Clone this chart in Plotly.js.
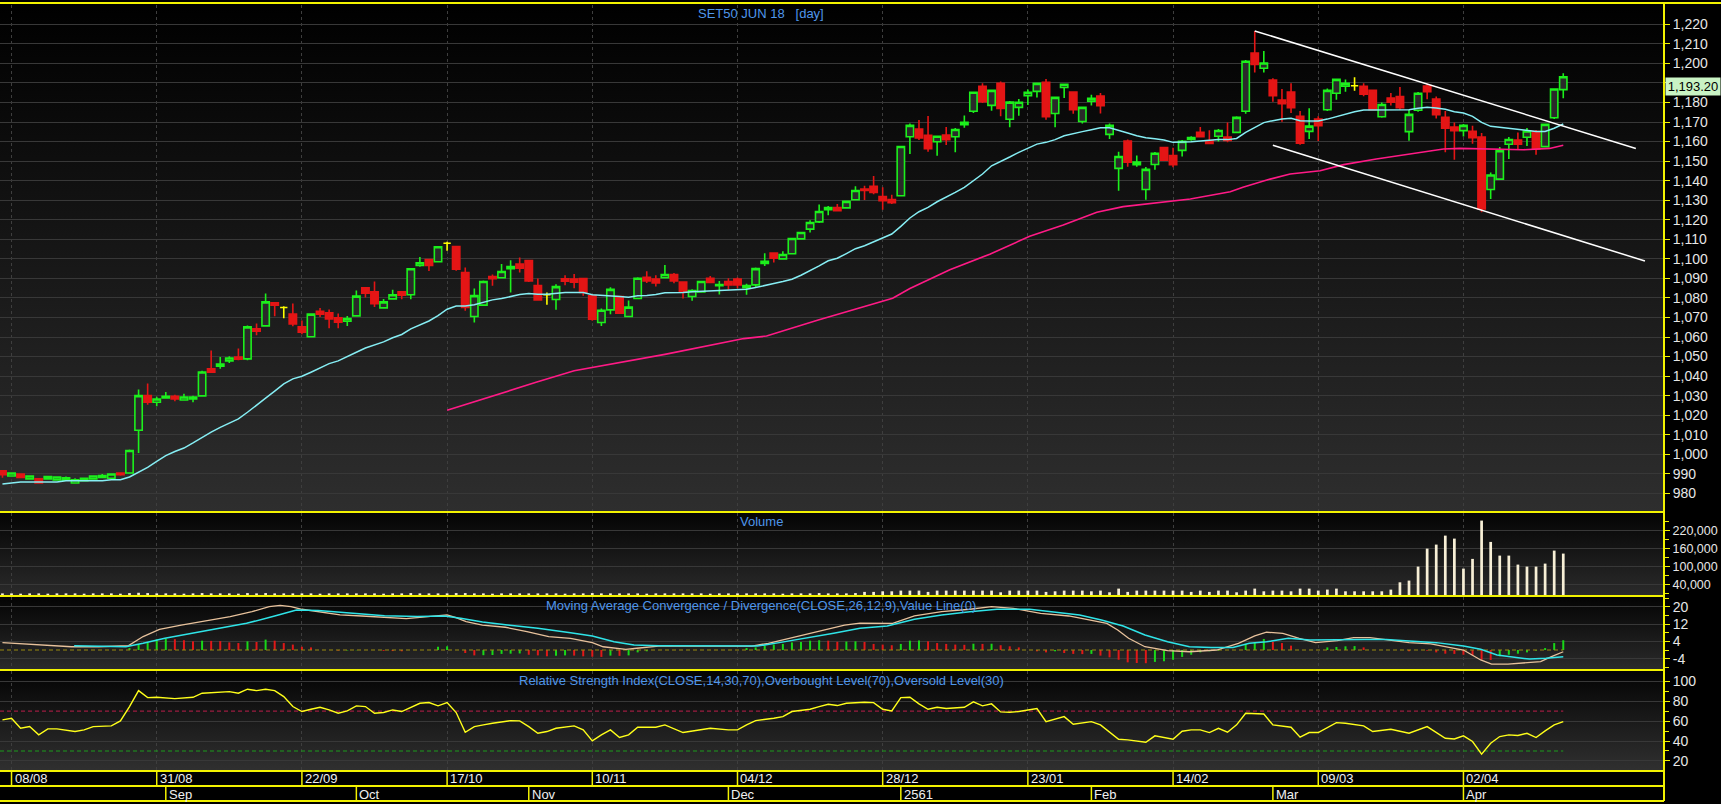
<!DOCTYPE html>
<html>
<head>
<meta charset="utf-8">
<script src="https://cdn.plot.ly/plotly-3.0.1.min.js"></script>
<style>
html,body{margin:0;padding:0;background:#000;overflow:hidden}
#chart{width:1721px;height:804px}
</style>
</head>
<body>
<div id="chart"></div>
<script>
// ---------------- DATA ----------------
const chartTitle = 'SET50 JUN 18\u00a0\u00a0\u00a0[day]';
const volumeTitle = 'Volume';
const macdTitle = 'Moving Average Convergence / Divergence(CLOSE,26,12,9),Value Line(0)';
const rsiTitle = 'Relative Strength Index(CLOSE,14,30,70),Overbought Level(70),Oversold Level(30)';

const open = [991.5,988.9,989.9,987.4,987.4,987.4,986.9,986.7,985.3,986.5,
987.4,988.2,987.7,990.4,990.4,1012.3,1030.0,1026.6,1028.8,1029.7,
1027.8,1028.3,1029.9,1043.7,1045.1,1047.8,1049.8,1048.8,1064.2,1065.7,
1077.5,1075.1,1071.8,1065.2,1060.1,1073.2,1072.4,1069.8,1068.1,1070.8,
1085.2,1083.1,1074.9,1079.5,1083.1,1081.6,1096.6,1099.7,1098.5,1108.0,
1106.3,1093.0,1070.5,1076.3,1091.0,1090.3,1095.0,1097.3,1099.1,1086.3,
1081.6,1079.2,1089.8,1089.6,1089.9,1081.1,1067.4,1073.9,1080.7,1070.5,
1079.7,1090.6,1089.6,1090.3,1092.0,1088.1,1080.7,1083.1,1090.1,1086.2,
1088.4,1089.6,1085.2,1086.7,1097.6,1102.9,1100.0,1102.6,1110.2,1115.2,
1118.9,1125.1,1126.3,1126.1,1130.2,1135.7,1137.1,1131.9,1130.4,1132.3,
1162.5,1166.4,1163.2,1159.9,1163.3,1162.5,1168.6,1175.5,1188.3,1178.5,
1189.8,1171.4,1177.5,1183.5,1185.7,1190.3,1174.4,1187.7,1185.4,1170.3,
1180.6,1183.3,1163.7,1146.3,1160.3,1148.2,1135.5,1148.3,1157.0,1152.9,
1155.5,1161.1,1164.7,1160.4,1162.7,1162.3,1164.7,1175.5,1205.3,1197.5,
1191.5,1181.3,1185.4,1172.9,1165.2,1171.5,1176.3,1184.7,1188.3,1188.6,
1188.3,1186.2,1172.7,1182.3,1183.1,1165.1,1176.0,1188.4,1181.8,1172.4,
1167.4,1165.6,1165.2,1162.3,1135.5,1140.8,1158.6,1160.8,1162.2,1165.1,
1157.4,1172.2,1186.6];

const high = [992.0,990.8,990.2,989.2,987.6,988.9,988.7,988.6,987.8,988.0,
989.2,989.9,990.2,990.6,1002.4,1033.1,1036.2,1029.4,1031.9,1030.4,
1031.0,1029.9,1042.8,1053.1,1049.8,1050.1,1054.1,1065.9,1066.9,1082.3,
1077.8,1075.8,1077.1,1068.4,1072.0,1074.9,1074.1,1072.0,1070.8,1083.8,
1085.4,1088.4,1079.5,1084.2,1083.6,1095.3,1101.0,1100.0,1106.6,1108.7,
1106.5,1095.6,1084.8,1088.9,1092.0,1097.3,1099.3,1100.7,1099.4,1089.9,
1082.8,1087.0,1091.6,1092.2,1090.2,1081.4,1074.6,1085.4,1081.0,1078.7,
1090.6,1093.7,1091.6,1096.8,1092.7,1088.4,1084.5,1088.7,1091.2,1088.6,
1090.1,1090.4,1087.2,1095.6,1102.9,1103.1,1103.9,1110.6,1113.7,1119.8,
1127.8,1127.1,1128.1,1129.6,1137.2,1137.4,1142.4,1136.6,1132.8,1157.9,
1169.3,1171.0,1173.1,1163.0,1167.4,1166.9,1173.4,1185.5,1189.9,1186.5,
1190.8,1180.7,1181.8,1186.7,1190.0,1192.0,1183.0,1189.5,1185.6,1177.8,
1184.0,1184.8,1169.3,1154.8,1161.0,1152.9,1147.0,1154.7,1157.2,1156.8,
1160.8,1162.7,1167.4,1165.8,1166.4,1169.8,1173.0,1201.7,1216.6,1206.3,
1192.4,1186.9,1189.8,1175.6,1177.0,1172.9,1187.2,1192.0,1191.8,1192.9,
1189.8,1186.4,1180.0,1184.9,1187.9,1176.3,1185.4,1189.6,1183.1,1175.6,
1169.8,1169.0,1168.1,1164.4,1144.2,1157.2,1162.3,1164.7,1166.9,1165.9,
1169.3,1187.3,1194.9];

const low = [988.0,988.6,987.9,987.2,985.0,987.2,986.6,986.5,985.1,986.3,
987.2,988.0,987.5,989.0,990.2,1000.7,1025.3,1024.6,1028.6,1027.1,
1027.6,1026.6,1029.7,1041.8,1043.7,1046.7,1048.1,1048.1,1060.9,1065.2,
1070.6,1069.6,1065.5,1061.4,1059.9,1070.3,1064.5,1064.5,1065.7,1070.6,
1080.2,1075.4,1074.7,1079.3,1079.3,1079.3,1096.0,1093.8,1098.3,1104.1,
1093.9,1073.4,1067.4,1076.0,1086.2,1090.1,1082.8,1093.0,1088.2,1078.6,
1076.5,1073.9,1086.5,1084.9,1081.1,1068.3,1065.7,1071.7,1071.9,1070.3,
1079.5,1087.7,1085.8,1090.1,1087.5,1079.7,1078.5,1082.9,1087.7,1081.7,
1084.2,1084.9,1081.6,1085.2,1096.3,1098.1,1099.8,1102.4,1110.0,1113.5,
1118.4,1122.3,1124.4,1125.9,1130.0,1130.1,1133.1,1125.1,1128.0,1132.1,
1153.6,1160.8,1154.8,1152.8,1158.2,1154.5,1167.1,1174.6,1179.7,1175.8,
1172.9,1167.3,1173.2,1178.7,1182.5,1171.2,1167.3,1182.3,1174.3,1169.2,
1178.5,1174.4,1161.3,1134.8,1147.1,1147.1,1130.2,1145.6,1150.0,1146.8,
1152.3,1160.4,1162.1,1158.6,1160.0,1159.6,1164.5,1174.3,1195.4,1195.4,
1180.4,1170.2,1174.6,1158.4,1161.3,1160.3,1175.6,1181.4,1185.5,1186.0,
1183.2,1176.3,1172.2,1178.4,1176.3,1160.4,1175.3,1181.6,1171.8,1154.5,
1150.7,1162.6,1158.9,1123.8,1130.6,1140.6,1151.1,1156.2,1157.7,1153.3,
1157.0,1171.5,1182.2];

const close = [989.5,990.4,988.2,988.9,985.3,988.6,988.4,988.0,987.0,987.7,
988.9,989.1,989.9,989.6,1001.9,1030.0,1026.6,1028.3,1029.7,1028.3,
1029.3,1029.3,1042.1,1042.0,1046.2,1049.3,1048.6,1065.2,1063.0,1078.0,
1076.3,1075.1,1066.7,1062.5,1071.7,1071.7,1069.3,1067.6,1069.5,1080.9,
1082.4,1077.0,1078.0,1081.6,1081.4,1094.9,1098.0,1096.6,1106.2,1108.0,
1094.7,1075.1,1081.2,1088.4,1089.8,1093.5,1096.1,1095.2,1088.7,1079.0,
1081.6,1085.8,1088.6,1088.1,1082.8,1069.1,1073.7,1084.4,1072.2,1075.3,
1090.1,1088.7,1087.7,1092.0,1088.7,1083.3,1083.8,1088.4,1087.9,1086.9,
1086.7,1086.7,1086.3,1095.0,1098.8,1100.3,1102.2,1110.4,1113.5,1118.6,
1124.2,1126.3,1124.6,1129.4,1135.0,1135.0,1134.0,1129.7,1128.7,1157.5,
1168.3,1161.8,1156.3,1162.7,1161.0,1166.2,1169.8,1185.2,1180.4,1186.2,
1177.0,1180.2,1180.1,1185.2,1189.8,1172.7,1182.6,1189.3,1176.3,1177.5,
1182.1,1178.4,1168.3,1152.4,1149.4,1149.5,1145.8,1154.0,1150.5,1148.2,
1160.1,1162.1,1162.5,1159.1,1165.7,1160.6,1172.4,1201.1,1199.4,1200.2,
1183.5,1179.4,1177.3,1159.2,1167.9,1168.1,1186.2,1191.8,1189.8,1188.6,
1184.2,1176.3,1179.0,1180.2,1177.3,1173.9,1184.7,1185.5,1173.8,1166.8,
1165.6,1168.3,1162.0,1125.5,1142.9,1155.3,1161.1,1158.7,1165.4,1156.2,
1168.8,1186.9,1193.2];

// short moving average (cyan), one value per bar
const maShort = [984.8,985.3,985.8,985.8,985.8,985.8,985.8,986.5,986.5,986.5,
986.5,986.5,987.0,987.0,988.4,990.9,993.3,996.4,999.3,1001.4,
1003.2,1005.8,1008.7,1011.3,1013.8,1016.0,1018.1,1021.5,1024.9,1028.7,
1032.3,1036.0,1038.6,1039.9,1042.0,1044.4,1046.4,1047.8,1049.8,1052.2,
1054.4,1055.8,1057.5,1059.6,1061.3,1064.2,1066.4,1068.2,1070.9,1074.2,
1075.9,1075.9,1076.5,1077.6,1079.0,1079.7,1080.7,1081.7,1082.3,1081.9,
1081.9,1082.3,1082.8,1082.8,1082.8,1081.6,1081.2,1081.1,1080.7,1080.4,
1081.1,1081.2,1081.7,1082.6,1082.6,1082.8,1083.1,1083.3,1083.8,1084.0,
1084.0,1084.3,1084.5,1085.3,1086.2,1087.4,1088.4,1089.6,1091.6,1093.9,
1096.4,1099.0,1100.3,1102.7,1105.2,1106.7,1108.7,1110.4,1112.7,1116.6,
1120.9,1124.1,1126.3,1129.2,1131.4,1134.0,1136.6,1140.0,1143.4,1147.6,
1149.7,1152.1,1154.5,1156.5,1158.7,1159.6,1161.0,1163.0,1163.9,1165.1,
1166.1,1167.1,1167.1,1165.9,1164.4,1163.0,1162.0,1161.5,1160.8,1159.6,
1159.6,1159.9,1160.3,1160.8,1161.0,1161.0,1161.6,1164.7,1167.3,1169.7,
1170.7,1171.5,1171.9,1170.7,1170.5,1170.5,1171.5,1172.7,1174.1,1175.3,
1176.1,1176.1,1176.1,1176.3,1176.3,1176.3,1177.0,1177.5,1177.2,1176.5,
1175.3,1174.6,1172.9,1169.8,1167.8,1167.3,1166.8,1166.4,1165.9,1165.2,
1165.2,1166.8,1169.0];

// long moving average (pink): [bar, value] points
const maLong = [[49,1022.5],[54.6,1030.8],[58.8,1036.8],[63,1042.7],[73,1051.1],
[81.7,1059.2],[84.2,1060.5],[89.9,1068.7],[94.5,1075.1],[98.1,1079.8],[100,1084.8],
[104.4,1094.4],[108.8,1102.4],[113.2,1111.5],[116.9,1117.3],[120.6,1123.8],
[123.5,1126.7],[128.6,1129.2],[130.9,1130.6],[135.3,1134.3],[136.7,1136.6],
[139.7,1140.8],[141.9,1143.4],[145.2,1145.1],[147.8,1148.2],[151.4,1151.1],
[155.1,1153.6],[158.8,1156.2],[160.6,1156.5],[162.6,1156.2],[167.6,1155.8],
[170.5,1156.5],[172,1158.1]];

// hand-drawn channel lines: [bar, price]
const upperLine = [[138,1216.6],[180,1156.5]];
const lowerLine = [[140,1158.1],[181,1098.9]];

const lastPriceLabel = '1,193.20';

const volume = [12000,12000,11000,12000,12000,11000,12000,12000,12000,11000,
12000,12000,12000,11000,13000,14000,13000,12000,12000,12000,
11000,12000,13000,12000,12000,12000,11000,13000,12000,13000,
12000,12000,12000,12000,12000,11000,12000,12000,12000,12000,
12000,12000,11000,12000,12000,13000,12000,12000,12000,12000,
13000,13000,12000,12000,11000,12000,12000,12000,12000,12000,
12000,12000,11000,12000,12000,13000,12000,12000,12000,12000,
12000,11000,12000,12000,12000,12000,12000,12000,11000,12000,
12000,12000,12000,12000,12000,12000,11000,12000,12000,12000,
13000,12000,12000,12000,13000,16900,16900,18900,18900,21200,
21200,21200,16900,21200,21200,21200,21200,21200,21200,21200,
15600,21200,21200,21200,21200,16900,18900,21200,21200,21200,
18900,21200,15600,27800,16900,21200,21200,21200,21200,21200,
21200,16900,21200,16900,21200,21200,15600,21200,27800,18900,
21200,21200,18900,27800,27800,21200,24500,27800,18900,18900,
18900,18900,18900,24500,48700,54400,100800,160400,173700,203500,
193600,94100,126300,253300,182600,137200,137200,107400,100800,100800,
110700,153800,143900];

// MACD line (tan) and signal line (cyan): [bar, value]
const macdLine = [[0,3.4],[3.4,2.6],[7.6,1.5],[10.6,1.5],[13.9,2.0],[15.5,6.2],[17.3,9.5],
[19.7,11.5],[22.7,13.8],[25.1,15.4],[27.5,17.7],[29.4,20.0],[30.6,20.6],[31.8,20.0],
[33.0,18.8],[34.8,17.7],[37.2,16.2],[39.6,15.7],[42.1,15.1],[44.5,14.5],[46.9,15.4],
[49.0,16.2],[49.9,15.1],[51.1,13.1],[52.9,11.5],[55.4,10.5],[57.8,8.5],[60.2,6.2],
[62.6,5.4],[65.0,3.4],[66.2,1.5],[68.7,0.3],[69.9,0.8],[72.3,1.8],[78.3,1.8],[82.6,1.8],
[84.4,3.1],[87.4,6.2],[90.4,9.2],[92.8,11.5],[94.5,12.4],[98.1,12.3],[100.5,15.7],
[103.5,17.7],[106.6,18.8],[109.0,20.0],[111.4,19.2],[114.4,16.9],[117.5,15.7],
[119.9,13.8],[121.7,12.3],[122.9,9.2],[124.1,5.4],[125.9,1.5],[128.4,-0.3],[130.8,-0.8],
[133.8,0],[136.2,3.1],[138.0,6.5],[139.3,8.2],[141.1,7.7],[142.9,5.4],[144.7,3.4],
[147.1,4.3],[148.9,5.7],[150.7,5.7],[152.5,4.6],[155.0,3.4],[157.4,2.8],[159.2,1.5],
[161.0,0],[162.9,-4.6],[164.1,-6.5],[165.9,-6.5],[167.7,-5.8],[169.5,-5.4],[170.7,-3.1],
[172,-0.8]];

const macdSignal = [[7.9,2.0],[13.6,1.5],[15.5,3.1],[17.9,5.4],[20.9,7.7],[23.9,10.0],
[26.9,12.3],[30.0,15.7],[32.4,18.5],[34.8,18.2],[38.4,16.9],[42.1,15.8],[45.7,15.5],
[48.7,15.7],[50.5,14.6],[52.9,12.9],[55.9,11.4],[59.0,10.0],[62.6,8.0],[65.0,6.5],
[67.4,3.8],[69.6,2.3],[72.3,2.0],[76.5,1.8],[83.2,1.8],[85.6,3.4],[88.6,5.4],[91.6,7.7],
[94.5,10.0],[97.5,11.1],[100.5,14.2],[103.5,16.2],[106.6,17.7],[109.6,18.8],[113.2,18.8],
[115.7,17.7],[118.7,16.2],[121.1,13.8],[123.5,11.1],[125.9,6.9],[128.4,3.8],[130.8,1.5],
[133.2,1.1],[135.6,1.2],[137.4,3.1],[139.3,3.8],[141.7,5.4],[144.1,4.6],[147.1,4.9],
[150.1,4.9],[152.5,4.9],[155.0,4.3],[158.0,3.4],[161.0,1.8],[162.9,0.3],[164.7,-2.3],
[166.5,-3.1],[168.3,-4.2],[170.1,-3.8],[172,-3.1]];

// MACD histogram, one value per bar
const macdHist = [0,0,0,0,0,0,0,0,0,0,
0,0,0,0,0.9,2.6,3.5,4.8,5.2,5.0,
4.5,4.0,4.3,4.2,4.1,3.5,3.2,4.0,3.7,4.8,
4.3,3.2,2.5,1.5,1.2,0,0,-0.3,-0.2,-0.1,
0,0,-0.4,-0.5,-0.6,0,0,0,1.5,1.7,
0,-1.4,-2.5,-2.4,-2.3,-1.8,-1.7,-1.6,-2.2,-2.5,
-2.9,-2.6,-2.5,-2.6,-2.9,-3.1,-3.2,-2.6,-2.7,-2.5,
-1.1,-0.6,0,0,0,0,0,0,0,0,
0,0,0.9,1.2,2.0,2.5,2.8,3.5,3.7,4.3,
4.5,4.3,3.8,3.9,4.0,3.7,2.8,2.5,2.2,2.8,
4.3,4.4,4.0,3.2,2.8,2.5,2.4,2.9,2.8,2.9,
2.2,1.7,1.2,0,-0.6,-1.1,-0.6,-1.4,-1.8,-1.9,
-1.8,-2.6,-3.4,-4.5,-5.7,-6.0,-6.1,-5.5,-5.2,-4.5,
-3.2,-2.2,-1.1,-0.6,-0.3,0,0,2.8,3.5,5.1,
3.7,3.2,2.0,0,0,0,1.2,1.4,1.7,1.8,
1.2,0,0,0,0,-0.6,0,-0.3,-1.1,-1.7,
-1.8,-2.2,-2.4,-4.5,-4.6,-2.9,-2.2,-1.7,-1.1,-0.3,
0.9,3.2,4.5];
const macdValueLine = 0;

// RSI: [bar, value]
const rsi = [[0,61.2],[1,62.9],[2,52.8],[3,54.5],[4,46.2],[5,52.2],[6,52.2],[8,49.5],[9,51.2],
[10,54.5],[12,55.2],[13,60.2],[14,74.6],[15,90.6],[16,83.6],[17,83.9],[19,82.6],[21,83.9],
[22,88.0],[24,88.6],[25,89.6],[26,88.0],[27,92.0],[28,90.6],[29,92.0],[30,90.6],[31,84.6],
[32,74.6],[33,69.6],[34,71.9],[35,73.9],[36,71.2],[37,67.9],[38,70.2],[39,75.3],[40,74.6],
[41,67.9],[42,68.6],[43,71.2],[44,69.6],[46,77.9],[47,78.6],[48,75.3],[49,78.6],[50,68.6],
[51,48.8],[52,54.5],[53,56.2],[54,57.9],[56,60.5],[57,60.2],[58,54.5],[59,47.8],[60,49.5],
[61,52.8],[63,55.2],[64,51.2],[65,40.1],[66,46.2],[67,51.2],[68,43.5],[69,46.2],[70,53.8],
[72,53.8],[73,56.2],[75,48.5],[77,51.2],[78,52.8],[80,51.2],[81,51.2],[82,56.2],[83,60.5],
[85,62.9],[86,64.5],[87,69.6],[89,71.9],[90,74.6],[91,76.9],[92,75.6],[93,77.9],[95,78.9],
[96,78.6],[97,71.9],[98,70.2],[99,83.6],[100,83.9],[101,77.3],[102,71.9],[103,73.9],
[104,72.6],[106,73.9],[107,79.3],[108,75.3],[109,77.3],[110,69.2],[111,68.9],[112,69.6],
[114,72.6],[115,59.5],[117,64.5],[118,56.9],[120,59.5],[121,56.2],[123,41.8],[124,41.1],
[126,38.8],[127,45.2],[129,41.8],[130,49.8],[131,51.2],[132,51.2],[133,48.5],[134,52.8],
[135,48.8],[136,56.2],[137,67.9],[139,67.2],[140,56.2],[142,53.8],[143,43.8],[144,48.5],
[145,48.5],[147,58.5],[148,57.9],[150,55.2],[151,49.5],[153,51.8],[154,49.5],[155,47.8],
[157,54.5],[158,48.5],[159,42.8],[160,42.1],[161,45.2],[162,39.5],[163,26.8],[164,37.8],
[165,44.5],[166,46.2],[167,45.5],[168,47.8],[169,43.5],[170,50.2],[171,56.2],[172,59.5]];
const overbought = 70, oversold = 30;

// axis labels
const priceTicks = [980,990,1000,1010,1020,1030,1040,1050,1060,1070,1080,1090,1100,1110,
  1120,1130,1140,1150,1160,1170,1180,1200,1210,1220];
const priceTickHidden = [1190]; // under the last-price box
const volumeTicks = [40000,100000,160000,220000];
const macdTicks = [-4,4,12,20];
const rsiTicks = [20,40,60,80,100];
const dateTickBars = [1,17,33,49,65,81,97,113,129,145,161];
const dateTickLabels = ['08/08','31/08','22/09','17/10','10/11','04/12','28/12','23/01','14/02','09/03','02/04'];
const monthBars = [18,39,58,80,99,120,140,161];
const monthLabels = ['Sep','Oct','Nov','Dec','2561','Feb','Mar','Apr'];

// ---------------- LAYOUT / STYLE ----------------
const W = 1721, H = 804, PR = 1664;
const FONT = "'Liberation Sans', Arial, sans-serif";
const YEL = '#f2f200';
const GRID = '#383838';
const py = p => 1 - p / H;
const xRange = [-0.27, 183.1];
const bars = open.map((_, i) => i);
const lastBar = bars[bars.length - 1];
const sel = (arr, ids) => ids.map(i => arr[i]);
const mainIds = bars.filter(i => open[i] !== close[i]);
const dojiIds = bars.filter(i => open[i] === close[i]);
const xs = pts => pts.map(p => p[0]);
const ys = pts => pts.map(p => p[1]);

const traces = [
  {type:'scatter', mode:'lines', x:bars, y:maShort, xaxis:'x', yaxis:'y',
   line:{color:'#86eef4', width:1.5}, hoverinfo:'skip'},
  {type:'scatter', mode:'lines', x:xs(maLong), y:ys(maLong), xaxis:'x', yaxis:'y',
   line:{color:'#ff1a86', width:1.6}, hoverinfo:'skip'},
  {type:'candlestick', x:mainIds, open:sel(open,mainIds), high:sel(high,mainIds),
   low:sel(low,mainIds), close:sel(close,mainIds), xaxis:'x', yaxis:'y', whiskerwidth:0,
   increasing:{line:{color:'#1cf01c', width:1.6}, fillcolor:'#2a2a2a'},
   decreasing:{line:{color:'#e41515', width:1.6}, fillcolor:'#e41515'}, hoverinfo:'skip'},
  {type:'candlestick', x:dojiIds, open:sel(open,dojiIds), high:sel(high,dojiIds),
   low:sel(low,dojiIds), close:sel(close,dojiIds), xaxis:'x', yaxis:'y', whiskerwidth:0,
   increasing:{line:{color:'#ffff00', width:1.6}, fillcolor:'#ffff00'},
   decreasing:{line:{color:'#ffff00', width:1.6}, fillcolor:'#ffff00'}, hoverinfo:'skip'},
  {type:'scatter', mode:'lines', x:xs(upperLine), y:ys(upperLine), xaxis:'x', yaxis:'y',
   line:{color:'#ffffff', width:1.5}, hoverinfo:'skip'},
  {type:'scatter', mode:'lines', x:xs(lowerLine), y:ys(lowerLine), xaxis:'x', yaxis:'y',
   line:{color:'#ffffff', width:1.5}, hoverinfo:'skip'},
  // volume
  {type:'bar', x:bars, y:volume, xaxis:'x2', yaxis:'y2', width:0.3,
   marker:{color:'#f7efd6', line:{width:0}}, hoverinfo:'skip'},
  // macd
  {type:'scatter', mode:'lines', x:[xRange[0], lastBar], y:[macdValueLine, macdValueLine],
   xaxis:'x3', yaxis:'y3', line:{color:'#9a8a10', width:1.2, dash:'4px,3px'}, hoverinfo:'skip'},
  {type:'bar', x:bars, y:macdHist, xaxis:'x3', yaxis:'y3', width:0.22,
   marker:{color:macdHist.map((v,i)=> (i>0 && v>macdHist[i-1]) ? '#18d818' : '#e01818'), line:{width:0}},
   hoverinfo:'skip'},
  {type:'scatter', mode:'lines', x:xs(macdLine), y:ys(macdLine), xaxis:'x3', yaxis:'y3',
   line:{color:'#e8c29c', width:1.3}, hoverinfo:'skip'},
  {type:'scatter', mode:'lines', x:xs(macdSignal), y:ys(macdSignal), xaxis:'x3', yaxis:'y3',
   line:{color:'#2fe4e8', width:1.5}, hoverinfo:'skip'},
  // rsi
  {type:'scatter', mode:'lines', x:[xRange[0], lastBar], y:[overbought, overbought],
   xaxis:'x4', yaxis:'y4', line:{color:'#9c1c40', width:1.2, dash:'4px,3px'}, hoverinfo:'skip'},
  {type:'scatter', mode:'lines', x:[xRange[0], lastBar], y:[oversold, oversold],
   xaxis:'x4', yaxis:'y4', line:{color:'#1c9c1c', width:1.2, dash:'4px,3px'}, hoverinfo:'skip'},
  {type:'scatter', mode:'lines', x:xs(rsi), y:ys(rsi), xaxis:'x4', yaxis:'y4',
   line:{color:'#ffff1a', width:1.4}, hoverinfo:'skip'}
];

const xBase = {range:xRange, domain:[0, PR/W], tickmode:'array', tickvals:dateTickBars,
  showticklabels:false, ticks:'', showgrid:true, gridcolor:'#3e3e3e', griddash:'3px,3px',
  gridwidth:1, zeroline:false, showline:false, fixedrange:true};
const yBase = {side:'right', showline:false, zeroline:false, showgrid:true, gridcolor:GRID,
  gridwidth:1, ticks:'outside', ticklen:5, tickwidth:1, tickcolor:YEL,
  tickfont:{family:FONT, size:14, color:'#e6e6e6'}, fixedrange:true};
const minorTicks = (vals, grid) => ({tickmode:'array', tickvals:vals, ticks:'outside', ticklen:(grid ? 5 : 4),
  tickcolor:YEL, tickwidth:1, showgrid:!!grid, gridcolor:GRID, gridwidth:1});

function grad(y0, y1, c0, c1) {
  const svg = '<svg xmlns="http://www.w3.org/2000/svg" width="10" height="100" viewBox="0 0 10 100" preserveAspectRatio="none">' +
    '<defs><linearGradient id="g" x1="0" y1="0" x2="0" y2="1"><stop offset="0" stop-color="' + c0 +
    '"/><stop offset="1" stop-color="' + c1 + '"/></linearGradient></defs><rect width="10" height="100" fill="url(#g)"/></svg>';
  return {source:'data:image/svg+xml;base64,' + btoa(svg), xref:'paper', yref:'paper',
    x:0, y:py(y0), sizex:PR/W, sizey:(y1-y0)/H, sizing:'stretch', xanchor:'left', yanchor:'top', layer:'below'};
}

const hline = (y, x1) => ({type:'line', xref:'paper', yref:'paper', x0:0, x1:x1, y0:py(y), y1:py(y),
  line:{color:YEL, width:2}});
const shapes = [
  hline(3, 1), hline(512, PR/W), hline(596, PR/W), hline(670, PR/W), hline(771, PR/W),
  hline(786, PR/W), hline(801, PR/W),
  {type:'line', xref:'paper', yref:'paper', x0:PR/W, x1:PR/W, y0:py(3), y1:py(801), line:{color:YEL, width:2}}
];
dateTickBars.forEach(b => shapes.push({type:'line', xref:'x', yref:'paper', x0:b, x1:b,
  y0:py(771), y1:py(786), line:{color:YEL, width:1.5}}));
monthBars.forEach(b => shapes.push({type:'line', xref:'x', yref:'paper', x0:b, x1:b,
  y0:py(786), y1:py(801), line:{color:YEL, width:1.5}}));

const titleFont = {family:FONT, size:13, color:'#4f96ea'};
const annotations = [
  {text:chartTitle, xref:'paper', yref:'paper', x:761/W, y:py(14), xanchor:'center', yanchor:'middle', showarrow:false, font:titleFont},
  {text:volumeTitle, xref:'paper', yref:'paper', x:761/W, y:py(521), xanchor:'center', yanchor:'middle', showarrow:false, font:titleFont},
  {text:macdTitle, xref:'paper', yref:'paper', x:761/W, y:py(605), xanchor:'center', yanchor:'middle', showarrow:false, font:titleFont},
  {text:rsiTitle, xref:'paper', yref:'paper', x:761/W, y:py(680), xanchor:'center', yanchor:'middle', showarrow:false, font:titleFont},
  {text:lastPriceLabel, xref:'paper', yref:'y', x:1665/W, y:close[lastBar], xanchor:'left', yanchor:'top',
   showarrow:false, bgcolor:'#c9f3c4', borderpad:1, width:52, height:15,
   font:{family:FONT, size:13, color:'#000000'}}
];
dateTickBars.forEach((b, k) => annotations.push({text:dateTickLabels[k], xref:'x', yref:'paper', x:b,
  y:py(778.5), xanchor:'left', yanchor:'middle', xshift:1, showarrow:false,
  font:{family:FONT, size:13, color:'#f0f0f0'}}));
monthBars.forEach((b, k) => annotations.push({text:monthLabels[k], xref:'x', yref:'paper', x:b,
  y:py(794), xanchor:'left', yanchor:'middle', xshift:1, showarrow:false,
  font:{family:FONT, size:13, color:'#f0f0f0'}}));

const layout = {
  width:W, height:H, margin:{l:0, r:0, t:0, b:0},
  paper_bgcolor:'#000000', plot_bgcolor:'rgba(0,0,0,0)', showlegend:false,
  boxmode:'overlay', boxgap:0.1, boxgroupgap:0.1, barmode:'overlay',
  xaxis:Object.assign({}, xBase, {anchor:'y', rangeslider:{visible:false}}),
  xaxis2:Object.assign({}, xBase, {anchor:'y2', matches:'x'}),
  xaxis3:Object.assign({}, xBase, {anchor:'y3', matches:'x'}),
  xaxis4:Object.assign({}, xBase, {anchor:'y4', matches:'x'}),
  yaxis:Object.assign({}, yBase, {anchor:'x', domain:[py(511), py(5)], range:[970.98, 1229.88],
    tickmode:'array', tickvals:priceTicks, tickformat:',d', minor:minorTicks(priceTickHidden, true)}),
  yaxis2:Object.assign({}, yBase, {anchor:'x2', domain:[py(597), py(513)], range:[0, 278460],
    tickmode:'array', tickvals:volumeTicks, tickformat:',d',
    tickfont:{family:FONT, size:12.5, color:'#e6e6e6'},
    minor:minorTicks([10000,70000,130000,190000,250000])}),
  yaxis3:Object.assign({}, yBase, {anchor:'x3', domain:[py(669), py(597)], range:[-8.77, 24.46],
    tickmode:'array', tickvals:macdTicks, ticktext:macdTicks.map(String),
    minor:minorTicks([-8,0,8,16,24])}),
  yaxis4:Object.assign({}, yBase, {anchor:'x4', domain:[py(770), py(671)], range:[10.9, 110.3],
    tickmode:'array', tickvals:rsiTicks, minor:minorTicks([10,30,50,70,90])}),
  images:[grad(4, 512, '#000000', '#2e2e2e'), grad(513, 596, '#040404', '#2b2b2b'),
          grad(597, 670, '#040404', '#2b2b2b'), grad(671, 771, '#040404', '#303030')],
  shapes:shapes, annotations:annotations
};

Plotly.newPlot('chart', traces, layout, {staticPlot:true, displayModeBar:false});
</script>
</body>
</html>
